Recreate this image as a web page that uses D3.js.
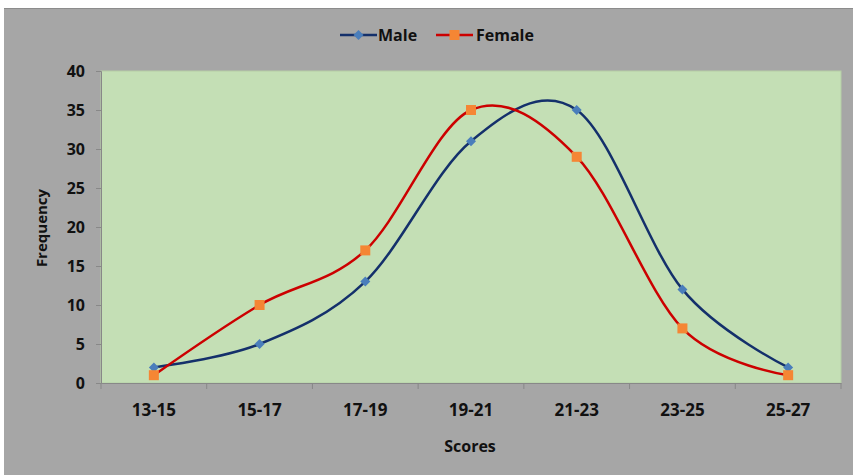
<!DOCTYPE html>
<html><head><meta charset="utf-8">
<script src="https://cdn.jsdelivr.net/npm/d3@7"></script>
<style>html,body{margin:0;padding:0;background:#fff}svg{display:block}</style>
</head><body>
<script>
const categories = ["13-15","15-17","17-19","19-21","21-23","23-25","25-27"];
const maleValues = [2,5,13,31,35,12,2];
const femaleValues = [1,10,17,35,29,7,1];
const yTicks = [0,5,10,15,20,25,30,35,40];
const seriesNames = ["Male","Female"];

const W = 853, H = 475;
const svg = d3.select("body").append("svg").attr("width", W).attr("height", H);
const font = "'Open Sans', Lato, sans-serif";

svg.append("rect").attr("x",0).attr("y",0).attr("width",W).attr("height",H).attr("fill","#fff");
svg.append("rect").attr("x",4).attr("y",8).attr("width",W-4).attr("height",H-8).attr("fill","#a6a6a6");
svg.append("line").attr("x1",4).attr("x2",W).attr("y1",8.5).attr("y2",8.5).attr("stroke","#8c8c8c");

const m = {left:101, right:841, top:71, bottom:383};
const x = d3.scaleBand().domain(categories).range([m.left, m.right]);
const y = d3.scaleLinear().domain([0,40]).range([m.bottom, m.top]);

svg.append("rect").attr("x",m.left).attr("y",m.top).attr("width",m.right-m.left).attr("height",m.bottom-m.top)
  .attr("fill","#c4dfb5").attr("stroke","#b5cea6").attr("stroke-width",1);

// y axis
const yAxis = svg.append("g").attr("transform",`translate(${m.left},0)`)
  .call(d3.axisLeft(y).tickValues(yTicks).tickSize(5).tickPadding(11));
yAxis.select(".domain").attr("stroke","#888");
yAxis.selectAll(".tick line").attr("stroke","#888");
yAxis.selectAll("text").attr("font-family",font).attr("font-weight","bold").attr("font-size",16).attr("fill","#111");

// x axis
const xAxis = svg.append("g").attr("transform",`translate(0,${m.bottom})`)
  .call(d3.axisBottom(x).tickSize(0).tickPadding(21));
xAxis.select(".domain").attr("stroke","#888");
xAxis.selectAll("text").attr("font-family",font).attr("font-weight","bold").attr("font-size",17).attr("fill","#111");
const bounds = categories.map(c => x(c)).concat([x(categories[categories.length-1]) + x.bandwidth()]);
svg.append("g").selectAll("line").data(bounds).join("line")
  .attr("x1",d=>d).attr("x2",d=>d).attr("y1",m.bottom).attr("y2",m.bottom+6).attr("stroke","#888");

// titles
svg.append("text").attr("x",470).attr("y",452).attr("text-anchor","middle")
  .attr("font-family",font).attr("font-weight","bold").attr("font-size",16).attr("fill","#111").text("Scores");
svg.append("text").attr("transform","translate(47,228) rotate(-90)").attr("text-anchor","middle")
  .attr("font-family",font).attr("font-weight","bold").attr("font-size",15).attr("fill","#111").text("Frequency");

const cx = c => x(c) + x.bandwidth()/2;
const line = d3.line().curve(d3.curveCardinal.tension(0));

const series = [
  {name:seriesNames[0], values:maleValues, stroke:"#14306b", fill:"#4a7ebb", shape:"diamond"},
  {name:seriesNames[1], values:femaleValues, stroke:"#cc0000", fill:"#f58634", shape:"square"}
];
function marker(g, shape, px, py, fill){
  if(shape==="diamond"){
    g.append("path").attr("d",`M${px},${py-5}L${px+5},${py}L${px},${py+5}L${px-5},${py}Z`).attr("fill",fill);
  } else {
    g.append("rect").attr("x",px-5).attr("y",py-5).attr("width",10).attr("height",10).attr("fill",fill);
  }
}
series.forEach(s=>{
  const pts = categories.map((c,i)=>[cx(c), y(s.values[i])]);
  svg.append("path").attr("d",line(pts)).attr("fill","none").attr("stroke",s.stroke).attr("stroke-width",2.5);
});
series.forEach(s=>{
  const g = svg.append("g");
  categories.forEach((c,i)=>marker(g, s.shape, cx(c), y(s.values[i]), s.fill));
});

// legend
const leg = [{s:series[0], x0:340, tx:378},{s:series[1], x0:436, tx:476}];
leg.forEach(l=>{
  svg.append("line").attr("x1",l.x0).attr("x2",l.x0+37).attr("y1",35).attr("y2",35).attr("stroke",l.s.stroke).attr("stroke-width",2.5);
  marker(svg, l.s.shape, l.x0+18.5, 35, l.s.fill);
  svg.append("text").attr("x",l.tx).attr("y",41).attr("font-family",font).attr("font-weight","bold")
    .attr("font-size",16).attr("fill","#111").text(l.s.name);
});
</script>
</body></html>
